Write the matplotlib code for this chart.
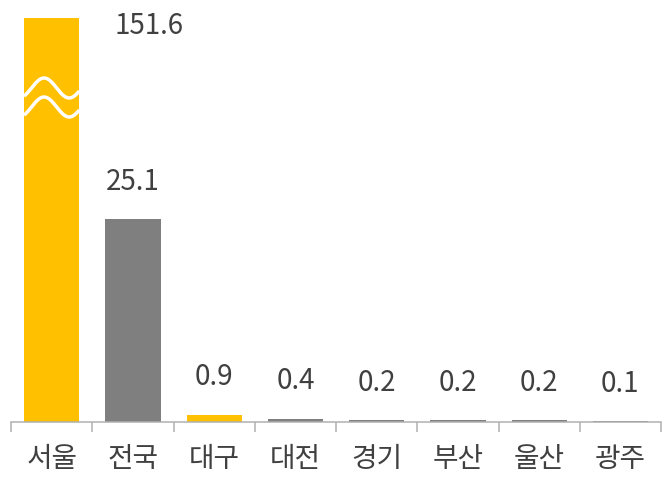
import numpy as np
import matplotlib
matplotlib.use('Agg')
import matplotlib.pyplot as plt

plt.rcParams['font.family'] = ['Noto Sans CJK KR', 'DejaVu Sans']

# data
regions = ['서울', '전국', '대구', '대전', '경기', '부산', '울산', '광주']
values = [151.6, 25.1, 0.9, 0.4, 0.2, 0.2, 0.2, 0.1]
labels = ['151.6', '25.1', '0.9', '0.4', '0.2', '0.2', '0.2', '0.1']
bar_colors = ['#FFC000', '#7F7F7F', '#FFC000', '#7F7F7F',
              '#7F7F7F', '#7F7F7F', '#7F7F7F', '#7F7F7F']
y_cap = 50  # axis is cut here, 서울 bar runs off the top

text_col = '#404040'
axis_col = '#B0B0B0'

fig = plt.figure(figsize=(6.66, 4.83), dpi=100)
ax = fig.add_axes([11 / 666, 1 - 422 / 483, 650 / 666, 404 / 483])

x = np.arange(len(regions))
bw = 0.68
ax.bar(x, values, width=bw, color=bar_colors, zorder=2)

ax.set_xlim(-0.5, len(regions) - 0.5)
ax.set_ylim(0, y_cap)

# value labels
for i, (v, lab) in enumerate(zip(values, labels)):
    if v > y_cap:
        # broken bar: label placed beside the top
        ax.annotate(lab, (i + 1.2, y_cap), xytext=(0, -5.5), textcoords='offset points',
                    ha='center', va='center', fontsize=20, color=text_col,
                    fontweight='light')
    else:
        ax.annotate(lab, (i, v), xytext=(0, 27), textcoords='offset points',
                    ha='center', va='center', fontsize=20, color=text_col,
                    fontweight='light')

# wavy break marks on the 서울 bar
t = np.linspace(0, 1, 200)
xs = -bw / 2 + t * bw
px_per_unit = 404 / y_cap
for centre_px in (88, 107):
    yy = (422 - (centre_px - 10 * np.sin(2 * np.pi * (t * 55 - 7.5) / 50))) / px_per_unit
    ax.plot(xs, yy, color='white', lw=2.5, solid_capstyle='butt', zorder=3)

# axes styling
for s in ['top', 'right', 'left']:
    ax.spines[s].set_visible(False)
ax.spines['bottom'].set_color(axis_col)
ax.spines['bottom'].set_linewidth(1.1)
ax.spines['bottom'].set_zorder(4)
ax.set_yticks([])

ax.set_xticks(np.arange(-0.5, len(regions), 1.0))
ax.set_xticklabels([])
ax.set_xticks(x, minor=True)
ax.set_xticklabels(regions, minor=True, fontsize=20, color=text_col, fontweight='light')
ax.tick_params(axis='x', which='major', length=7.5, width=1.1, color=axis_col)
ax.tick_params(axis='x', which='minor', length=0, pad=16)

fig.savefig('out.png', dpi=100)
